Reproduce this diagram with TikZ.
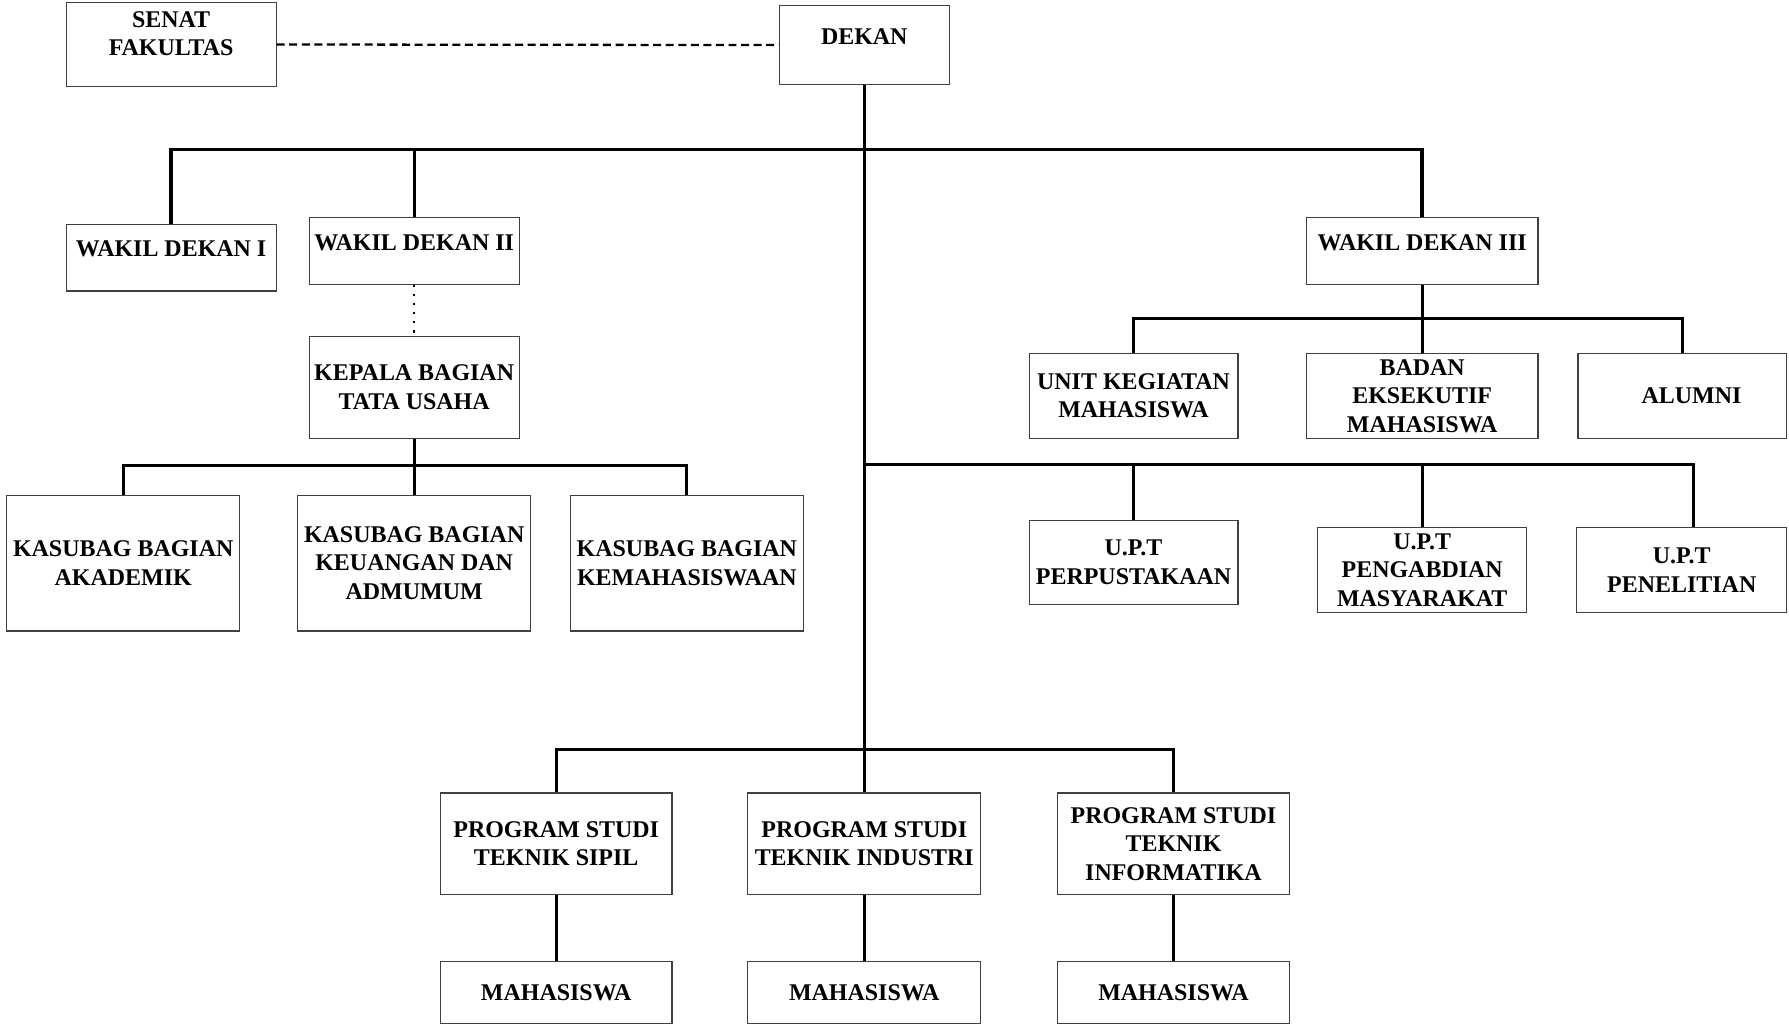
\documentclass[tikz,border=0pt]{standalone}
\usepackage{fontspec}
\setmainfont{Liberation Serif}
\tikzset{
	unit/.style={draw=black!75, line width=1pt, align=center, inner sep=0pt},
	link/.style={line width=2.6pt},
	dashlink/.style={line width=2pt, dash pattern=on 7pt off 4pt},
	dotlink/.style={line width=2pt, dash pattern=on 2pt off 6pt}
}
\begin{document}
\begin{tikzpicture}[x=1pt, y=-1pt, font=\bfseries\fontsize{21}{25}\selectfont]
		\useasboundingbox (0,0) rectangle (1568,904);
		% puncak
		\node[unit, minimum width=184, minimum height=74, label={[align=center, yshift=9.5pt]center:SENAT\\FAKULTAS}] (senat) at (150,39) {};
		\node[unit, minimum width=149, minimum height=69, label={[yshift=7.5pt]center:DEKAN}] (dekan) at (757.5,39.5) {};
		\draw[dashlink] (senat.east) -- (dekan.west);

		% wakil dekan
		\node[unit, minimum width=184, minimum height=58, label={[yshift=8pt]center:WAKIL DEKAN I}] (wd1) at (150,226) {};
		\node[unit, minimum width=184, minimum height=58, label={[yshift=7pt]center:WAKIL DEKAN II}] (wd2) at (363,220) {};
		\node[unit, minimum width=203, minimum height=58, label={[yshift=7pt]center:WAKIL DEKAN III}] (wd3) at (1246.5,220) {};
		\coordinate (bus1) at (757.5,131);
		\draw[link, line width=3pt] (wd1.north) |- (bus1) -| (wd3.north);
		\draw[link] (wd2.north) |- (bus1);

		% tata usaha
		\node[unit, minimum width=184, minimum height=89] (kabag) at (363,339.5) {KEPALA BAGIAN\\TATA USAHA};
		\draw[dotlink] (wd2.south) -- (kabag.north);
		\node[unit, minimum width=204, minimum height=119] (aka) at (108,493.5) {KASUBAG BAGIAN\\AKADEMIK};
		\node[unit, minimum width=204, minimum height=119] (keu) at (363,493.5) {KASUBAG BAGIAN\\KEUANGAN DAN\\ADMUMUM};
		\node[unit, minimum width=204, minimum height=119] (kmhs) at (602,493.5) {KASUBAG BAGIAN\\KEMAHASISWAAN};
		\coordinate (bus2) at (363,408);
		\draw[link] (kabag.south) -- (keu.north);
		\draw[link] (aka.north) |- (bus2) -| (kmhs.north);

		% bidang kemahasiswaan
		\node[unit, minimum width=183, minimum height=74] (ukm) at (993.5,347) {UNIT KEGIATAN\\MAHASISWA};
		\node[unit, minimum width=203, minimum height=74] (bem) at (1246.5,347) {BADAN\\EKSEKUTIF\\MAHASISWA};
		\node[unit, minimum width=183, minimum height=74, label={[xshift=8pt]center:ALUMNI}] (alumni) at (1474.5,347) {};
		\coordinate (bus3) at (1246.5,279);
		\draw[link] (wd3.south) -- (bem.north);
		\draw[link] (ukm.north) |- (bus3) -| (alumni.north);

		% u.p.t
		\node[unit, minimum width=183, minimum height=74] (perpus) at (993.5,493) {U.P.T\\PERPUSTAKAAN};
		\node[unit, minimum width=183, minimum height=75] (pengab) at (1246.5,499.5) {U.P.T\\PENGABDIAN\\MASYARAKAT};
		\node[unit, minimum width=184, minimum height=75] (pen) at (1474,499.5) {U.P.T\\PENELITIAN};
		\coordinate (bus4) at (757.5,407);
		\draw[link] (perpus.north) |- (bus4);
		\draw[link] (bus4) -| ([xshift=10pt]pen.north);
		\draw[link] (pengab.north) -- (pengab.north |- bus4);

		% program studi
		\node[unit, minimum width=203, minimum height=89] (sipil) at (487.5,739.5) {PROGRAM STUDI\\TEKNIK SIPIL};
		\node[unit, minimum width=204, minimum height=89] (ind) at (757.5,739.5) {PROGRAM STUDI\\TEKNIK INDUSTRI};
		\node[unit, minimum width=203, minimum height=89] (inf) at (1028.5,739.5) {PROGRAM STUDI\\TEKNIK\\INFORMATIKA};
		\coordinate (bus5) at (757.5,657);
		\draw[link] (dekan.south) -- (ind.north);
		\draw[link] (sipil.north) |- (bus5) -| (inf.north);

		\node[unit, minimum width=203, minimum height=54] (mhs1) at (487.5,870) {MAHASISWA};
		\node[unit, minimum width=204, minimum height=54] (mhs2) at (757.5,870) {MAHASISWA};
		\node[unit, minimum width=203, minimum height=54] (mhs3) at (1028.5,870) {MAHASISWA};
		\draw[link] (sipil.south) -- (mhs1.north);
		\draw[link] (ind.south) -- (mhs2.north);
		\draw[link] (inf.south) -- (mhs3.north);
	\end{tikzpicture}
\end{document}
